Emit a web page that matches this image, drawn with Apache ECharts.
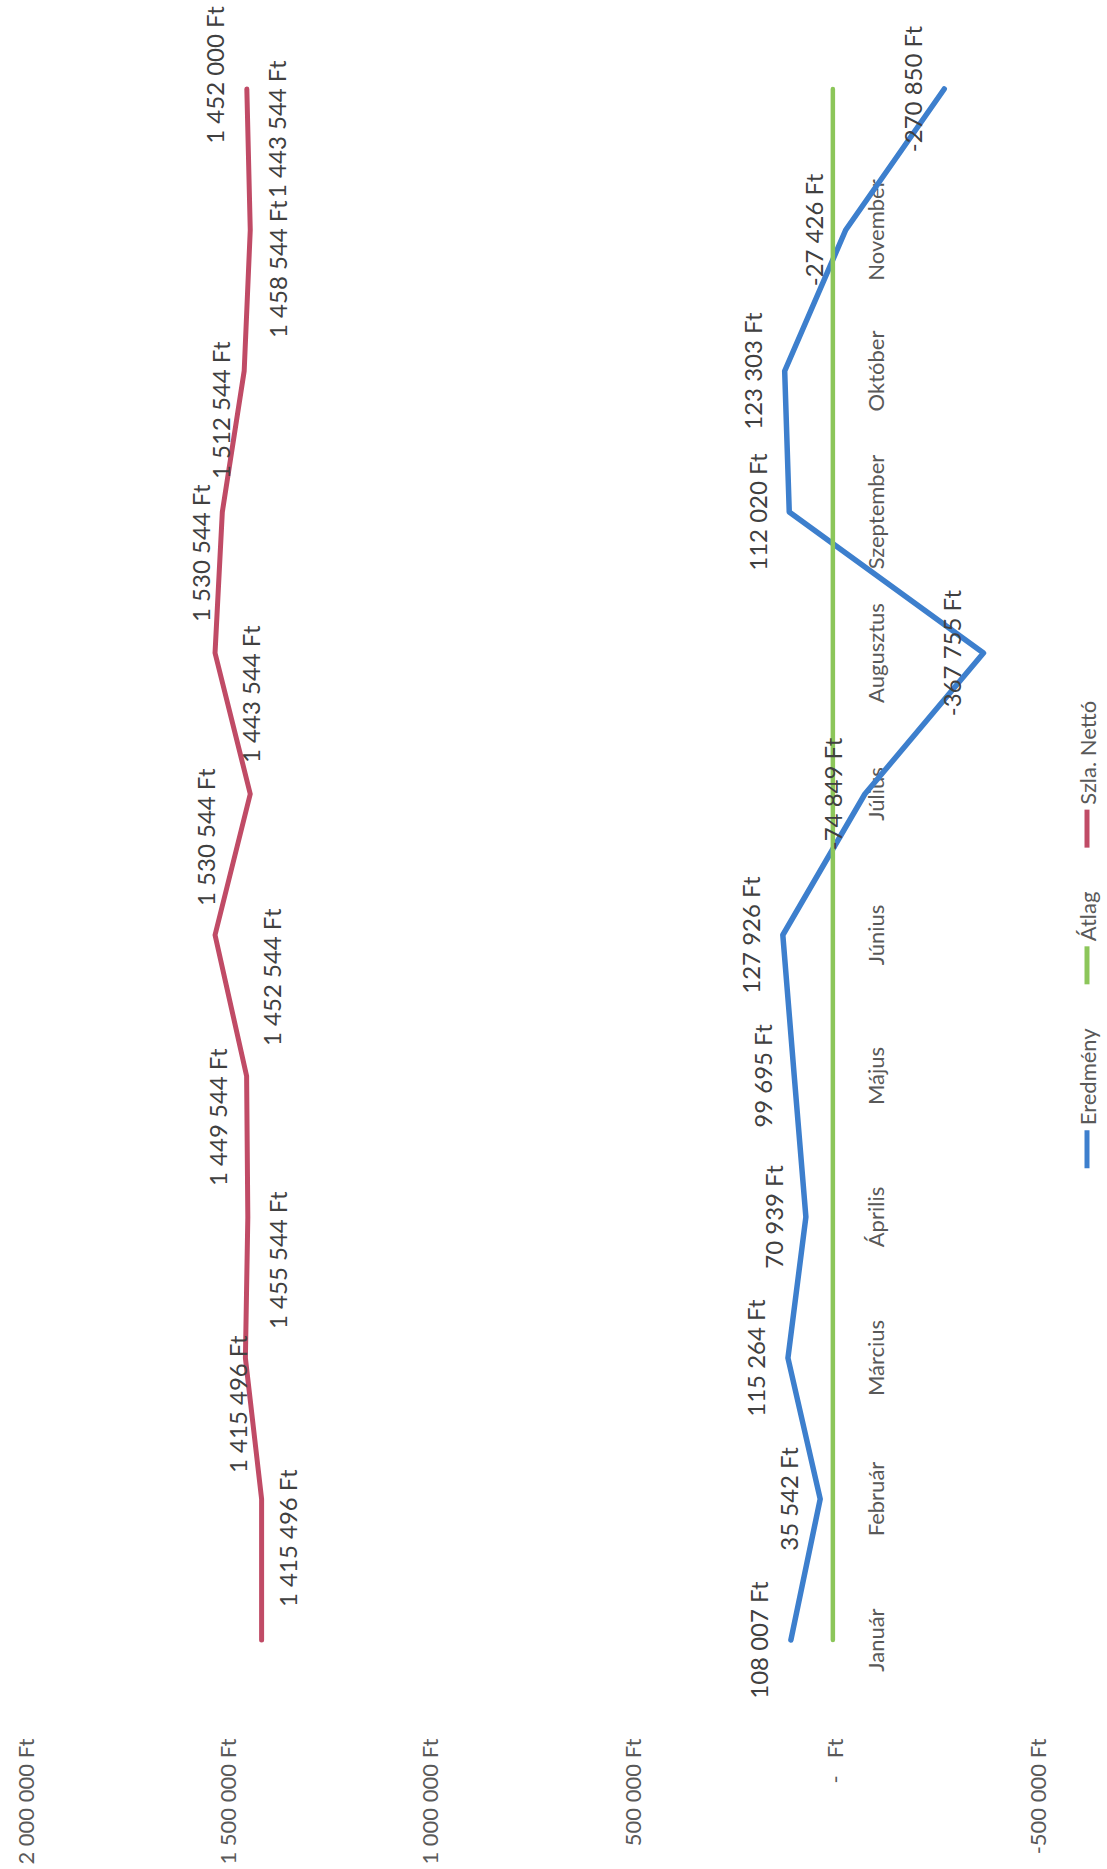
<!DOCTYPE html>
<html><head><meta charset="utf-8">
<script src="https://cdn.jsdelivr.net/npm/echarts@6/dist/echarts.min.js"></script>
<style>
html,body{margin:0;padding:0;background:#fff;overflow:hidden;width:1107px;height:1869px;}
#wrap{position:absolute;left:0;top:0;width:1869px;height:1107px;transform-origin:0 0;transform:translateY(1869px) rotate(-90deg);}
#chart{width:1869px;height:1107px;}
</style></head><body>
<div id="wrap"><div id="chart"></div></div>
<script>
const categories = ['Január','Február','Március','Április','Május','Június','Július','Augusztus','Szeptember','Október','November','December'];
const eredmeny = [108007, 35542, 115264, 70939, 99695, 127926, -74849, -367755, 112020, 123303, -27426, -270850];
const atlag = [4318, 4318, 4318, 4318, 4318, 4318, 4318, 4318, 4318, 4318, 4318, 4318];
const szlaNetto = [1415496, 1415496, 1455544, 1449544, 1452544, 1530544, 1443544, 1530544, 1512544, 1458544, 1443544, 1452000];
const seriesNames = ['Eredmény', 'Átlag', 'Szla. Nettó'];

// label placement for the red series: [dx, dy, align]
const redLabelLayout = [[33,26,'left'],[26,-24,'left'],[29,32,'left'],[31,-30,'left'],[30,25,'left'],[29,-10,'left'],[31,0,'left'],[31,-15,'left'],[33,-2,'left'],[33,33,'left'],[32,26,'left'],[14,-32,'center']];

const FONT = 'Lato';
const GRID_TOP = 25, GRID_BOTTOM = 70, H = 1107;
const VMIN = -500000, VMAX = 2000000;
const zeroOffset = (H - GRID_TOP - GRID_BOTTOM) * (0 - VMIN) / (VMAX - VMIN);

function fmt(v){
  if (v === 0) return '-   Ft';
  const s = Math.abs(Math.round(v)).toString().replace(/\B(?=(\d{3})+(?!\d))/g, ' ');
  return (v < 0 ? '-' : '') + s + ' Ft';
}
const chart = echarts.init(document.getElementById('chart'), null, {renderer: 'svg'});
const labelBase = {show: true, position: 'inside', fontFamily: FONT, fontSize: 24, color: '#404040', formatter: p => fmt(p.value)};
chart.setOption({
  animation: false,
  backgroundColor: '#ffffff',
  grid: {left: 158.5, right: 18.5, top: GRID_TOP, bottom: GRID_BOTTOM, containLabel: false},
  legend: {
    data: seriesNames, bottom: 4, left: 'center', icon: 'rect', itemWidth: 38, itemHeight: 5, itemGap: 44,
    textStyle: {fontFamily: FONT, fontSize: 22, color: '#595959'}
  },
  xAxis: {
    type: 'category', data: categories, boundaryGap: true, position: 'bottom', offset: -zeroOffset,
    axisLine: {show: false, onZero: false}, axisTick: {show: false},
    axisLabel: {margin: 30, fontFamily: FONT, fontSize: 22, color: '#595959', interval: (i) => i < 11}
  },
  yAxis: {
    type: 'value', min: VMIN, max: VMAX, interval: 500000,
    axisLine: {show: false}, axisTick: {show: false}, splitLine: {show: false},
    axisLabel: {margin: 28, fontFamily: FONT, fontSize: 22, color: '#595959', formatter: fmt}
  },
  series: [
    {name: 'Eredmény', type: 'line', data: eredmeny, symbol: 'circle', symbolSize: 2,
     itemStyle: {color: '#3d7fcd'}, lineStyle: {width: 5.5, color: '#3d7fcd', cap: 'round', join: 'round'},
     label: Object.assign({}, labelBase, {offset: [0, -32], align: 'center'})},
    {name: 'Átlag', type: 'line', data: atlag, symbol: 'circle', symbolSize: 2,
     itemStyle: {color: '#8cc65a'}, lineStyle: {width: 4.5, color: '#8cc65a', cap: 'round'}},
    {name: 'Szla. Nettó', type: 'line', symbol: 'circle', symbolSize: 2,
     data: szlaNetto.map((v, i) => ({value: v, label: {align: redLabelLayout[i][2], offset: [redLabelLayout[i][0], redLabelLayout[i][1]]}})),
     itemStyle: {color: '#c04b66'}, lineStyle: {width: 5, color: '#c04b66', cap: 'round', join: 'round'},
     label: labelBase}
  ]
});
</script></body></html>
